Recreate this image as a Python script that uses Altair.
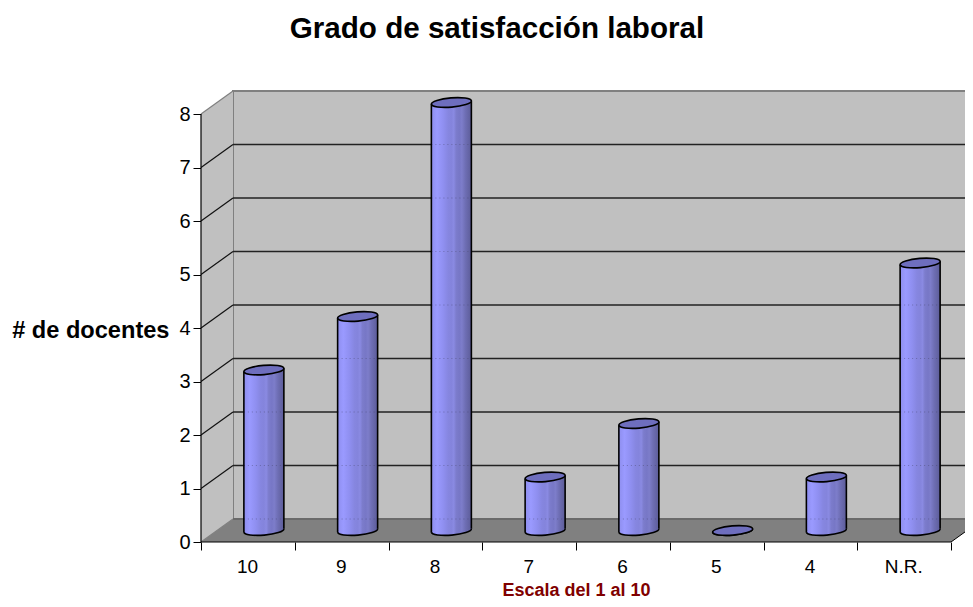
import altair as alt
import pandas as pd

categories = ["10", "9", "8", "7", "6", "5", "4", "N.R."]
values = [3, 4, 8, 1, 2, 0, 1, 5]
y_ticks = [0, 1, 2, 3, 4, 5, 6, 7, 8]
x_ticks = [0, 1, 2, 3, 4, 5, 6, 7, 8]
x_title = "Escala del 1 al 10"
y_title = "# de docentes"

DX, DY = 32 / 93.75, 23 / 53.5
XMAX, YMAX = 764 / 93.75, 452 / 53.5
HALF, TILT = 20 / 93.75, 1.67 / 53.5
FONT = "Liberation Sans"

x_s = alt.Scale(domain=[0, XMAX], nice=False, zero=False)
y_s = alt.Scale(domain=[0, YMAX], nice=False, zero=False)


def XQ(f="x"):
    return alt.X(f + ":Q", scale=x_s, title=x_title)


def YQ(f="y"):
    return alt.Y(f + ":Q", scale=y_s, title=y_title)


GRAD = alt.LinearGradient(
    gradient="linear", x1=0, x2=1, y1=0, y2=0,
    stops=[
        alt.GradientStop(offset=0.0, color="#8e8eee"),
        alt.GradientStop(offset=0.14, color="#9a9aff"),
        alt.GradientStop(offset=0.3, color="#8f8ff0"),
        alt.GradientStop(offset=0.42, color="#8686e0"),
        alt.GradientStop(offset=0.5, color="#8484dc"),
        alt.GradientStop(offset=0.56, color="#8a8ae2"),
        alt.GradientStop(offset=0.62, color="#7c7ccc"),
        alt.GradientStop(offset=0.7, color="#7777c6"),
        alt.GradientStop(offset=0.76, color="#7d7dca"),
        alt.GradientStop(offset=0.85, color="#6e6eb4"),
        alt.GradientStop(offset=1.0, color="#5c5c98"),
    ],
)
TOP_PATH = "M-1,0.083 A1,0.23 -4.7 1 1 1,-0.083 A1,0.23 -4.7 1 1 -1,0.083 Z"
ARC_PATH = "M-1,0.083 A1,0.23 -4.7 0 0 1,-0.083"
SIZE = 1600

wall = pd.DataFrame({"x": [DX], "x2": [XMAX + 1], "y": [DY], "y2": [8 + DY]})
side = pd.DataFrame({"x": [0, DX], "y": [0, DY], "y2": [8, 8 + DY]})
floor = pd.DataFrame({"x": [0, DX, 8, 8 + DX], "y": [0, 0, 0, DY], "y2": [0, DY, DY, DY]})
grid = pd.DataFrame({"x": [DX] * 7, "x2": [XMAX + 1] * 7, "y": [k + DY for k in range(1, 8)]})
diag = pd.DataFrame({"x": [0] * 9, "x2": [DX] * 9, "y": y_ticks, "y2": [k + DY for k in y_ticks],
                     "c": ["#808080" if k in (0, 8) else "#111111" for k in y_ticks]})
bars = pd.DataFrame({"cat": categories, "v": values})
bars["cx"] = [i + 0.5 + DX / 2 for i in range(len(values))]
bars["x"] = bars.cx - HALF
bars["x2"] = bars.cx + HALF
bars["ytop"] = bars.v + DY / 2
bars["ybot"] = DY / 2

show = pd.DataFrame(
    [{"x": r.x, "x2": r.x2, "y": k + DY} for r in bars.itertuples() for k in range(0, 8) if k + DY < r.ytop]
)

base_axes = alt.Chart(pd.DataFrame({"x": x_ticks, "y": y_ticks})).mark_point(opacity=0).encode(
    x=alt.X("x:Q", scale=x_s, title=x_title,
            axis=alt.Axis(values=x_ticks, domain=False, grid=False, tickSize=8, tickColor="#000000",
                          tickWidth=1, labelOffset=46, labelPadding=7, labelFontSize=19, labelFont=FONT,
                          labelColor="#000000", labelFlush=False, labelOverlap=False, labelBound=False,
                          labelExpr="[" + ",".join('"%s"' % c for c in categories) + ',""][datum.value]',
                          titleFont=FONT, titleFontSize=18, titleFontWeight="bold", titleColor="#800000",
                          titleX=375, titleY=48, titleBaseline="middle", titleAlign="center")),
    y=alt.Y("y:Q", scale=y_s, title=y_title,
            axis=alt.Axis(values=y_ticks, domain=False, grid=False, tickSize=8, tickColor="#000000",
                          tickWidth=1, labelPadding=3, labelFontSize=20, labelFont=FONT,
                          labelColor="#000000", format="d", labelOverlap=False, labelBound=False,
                          titleFont=FONT, titleFontSize=23.6, titleFontWeight="bold", titleColor="#000000",
                          titleAngle=0, titleAlign="right", titleBaseline="middle", titleX=-32, titleY=240)),
)

wall_l = alt.Chart(wall).mark_rect(fill="#c0c0c0", stroke="#808080", strokeWidth=2, clip=True).encode(
    x=XQ(), x2="x2:Q", y=YQ(), y2="y2:Q")
side_l = alt.Chart(side).mark_area(fill="#c0c0c0", orient="vertical", clip=True).encode(x=XQ(), y=YQ(), y2="y2:Q")
floor_l = alt.Chart(floor).mark_area(fill="#808080", orient="vertical", clip=True).encode(x=XQ(), y=YQ(), y2="y2:Q")
floor_edge = alt.Chart(pd.DataFrame({"x": [DX], "x2": [XMAX + 1], "y": [DY]})).mark_rule(
    stroke="#6a6a6a", strokeWidth=2, clip=True).encode(x=XQ(), x2="x2:Q", y=YQ())
grid_l = alt.Chart(grid).mark_rule(stroke="#222222", strokeWidth=1.4, clip=True).encode(x=XQ(), x2="x2:Q", y=YQ())
diag_l = alt.Chart(diag).mark_rule(strokeWidth=1.2).encode(
    x=XQ(), x2="x2:Q", y=YQ(), y2="y2:Q", stroke=alt.Stroke("c:N", scale=None))
right_diag = alt.Chart(pd.DataFrame({"x": [8], "x2": [8 + DX], "y": [0], "y2": [DY]})).mark_rule(
    stroke="#000000", strokeWidth=1, clip=True).encode(x=XQ(), x2="x2:Q", y=YQ(), y2="y2:Q")
front_x = alt.Chart(pd.DataFrame({"x": [0], "x2": [8], "y": [0]})).mark_rule(
    stroke="#000000", strokeWidth=1.2).encode(x=XQ(), x2="x2:Q", y=YQ())
front_y = alt.Chart(pd.DataFrame({"x": [0], "y": [0], "y2": [8]})).mark_rule(
    stroke="#000000", strokeWidth=1.2).encode(x=XQ(), y=YQ(), y2="y2:Q")

b = alt.Chart(bars)
body = b.mark_rect(fill=GRAD).encode(x=XQ(), x2="x2:Q", y=YQ("ytop"), y2="ybot:Q")
base_fill = b.mark_point(shape=TOP_PATH, size=SIZE, fill=GRAD, filled=True, opacity=1, strokeWidth=0).encode(
    x=XQ("cx"), y=YQ("ybot"))
show_l = alt.Chart(show).mark_rule(stroke="#444466", strokeWidth=1, strokeDash=[1, 3], opacity=0.45).encode(
    x=XQ(), x2="x2:Q", y=YQ())
base_arc = b.mark_point(shape=ARC_PATH, size=SIZE, filled=False, fillOpacity=0, opacity=1, stroke="#000000", strokeWidth=1.6).encode(
    x=XQ("cx"), y=YQ("ybot"))
tall = bars[bars.v > 0]
left_side = alt.Chart(tall.assign(a=tall.ytop - TILT, b=tall.ybot - TILT)).mark_rule(
    stroke="#000000", strokeWidth=1.6).encode(x=XQ(), y=YQ("a"), y2="b:Q")
right_side = alt.Chart(tall.assign(a=tall.ytop + TILT, b=tall.ybot + TILT)).mark_rule(
    stroke="#000000", strokeWidth=1.6).encode(x=XQ("x2"), y=YQ("a"), y2="b:Q")
top = b.mark_point(shape=TOP_PATH, size=SIZE, fill="#6e6ebe", filled=True, opacity=1, stroke="#000000", strokeWidth=1.6).encode(
    x=XQ("cx"), y=YQ("ytop"))

chart = alt.layer(
    base_axes, wall_l, side_l, floor_l, floor_edge, grid_l, diag_l, right_diag, front_x, front_y,
    body, base_fill, show_l, base_arc, left_side, right_side, top,
).resolve_scale(x="shared", y="shared").properties(
    width=764, height=452,
    autosize=alt.AutoSizeParams(type="none"),
    padding={"left": 193, "top": 82, "right": 0, "bottom": 57},
    background="#ffffff",
    title=alt.TitleParams("Grado de satisfacción laboral", font=FONT, fontSize=29.6, fontWeight="bold",
                          color="#000000", anchor="middle", frame="group", dx=-86, offset=45),
).configure_view(stroke=None)

chart.save("out.html", embed_options={"renderer": "svg", "actions": False})
